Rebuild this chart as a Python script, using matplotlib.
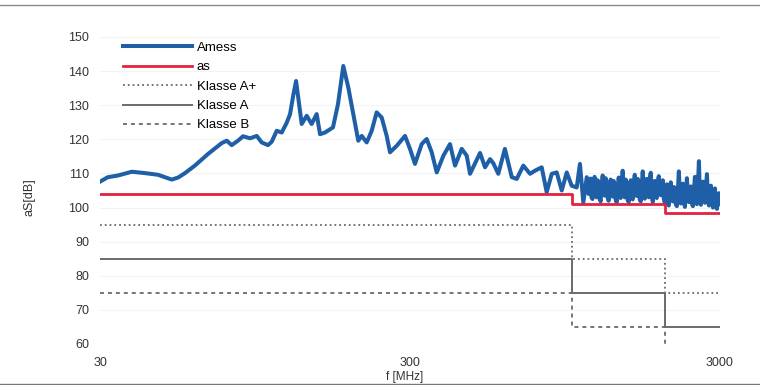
import matplotlib
matplotlib.use("Agg")
import matplotlib.pyplot as plt
from matplotlib.lines import Line2D

plt.rcParams["font.family"] = ["Liberation Sans", "DejaVu Sans"]

amess_f = [30, 31.8, 34.3, 38.0, 41.9, 46.2, 51.1, 53.6, 56.4, 60.7, 66.9, 74.1,
           76.9, 79.8, 83.6, 86.8, 91.4, 96.1, 99.7, 104.5, 107.4, 111.5, 115.7,
           120.1, 123.1, 126.1, 128.7, 134.2, 139.3, 144.5, 150, 153.8, 159.6,
           169.3, 175.7, 182.8, 189.7, 196.9, 204.3, 209.6, 217.5, 225.7, 234.2,
           243.1, 252.3, 258.6, 271.8, 289.1, 300, 311.3, 327.2, 339.6, 352.5,
           365.9, 384.4, 403.8, 419.1, 440.5, 457.3, 468.6, 504.7, 523.8, 543.7,
           557, 578, 607, 639, 663, 696, 732, 759, 798, 828, 860, 892, 926, 961,
           997, 1035, 1060, 1087, 1115,
           1130, 1138, 1147, 1155, 1164, 1173, 1182, 1191, 1200, 1209,
           1218, 1227, 1236, 1245, 1255, 1264, 1274, 1283, 1293, 1302,
           1312, 1322, 1332, 1342, 1352, 1362, 1372, 1382, 1393, 1403,
           1414, 1424, 1435, 1445, 1456, 1467, 1478, 1489, 1500, 1511,
           1523, 1534, 1546, 1557, 1569, 1581, 1593, 1605, 1617, 1629,
           1641, 1653, 1665, 1678, 1690, 1703, 1716, 1728, 1741, 1754,
           1768, 1781, 1794, 1807, 1821, 1834, 1848, 1862, 1876, 1890,
           1904, 1918, 1933, 1947, 1962, 1976, 1991,
           2006, 2021, 2036, 2051, 2066, 2082, 2097, 2113, 2129, 2145,
           2161, 2177, 2193, 2210, 2226, 2243, 2260, 2277, 2294, 2311,
           2328, 2346, 2363, 2381, 2399, 2417, 2435, 2453, 2471, 2490,
           2508, 2527, 2546, 2565, 2584, 2604, 2623, 2643, 2662, 2682,
           2702, 2723, 2743, 2763, 2784, 2805, 2826, 2847, 2868, 2890,
           2911, 2933, 2955, 2977, 3000]
amess_db = [107.6, 108.9, 109.4, 110.5, 110.1, 109.6, 108.2, 108.8, 110.1, 112.3,
            115.7, 118.9, 119.6, 118.3, 119.6, 120.9, 120.3, 121.0, 119.1, 118.3,
            119.3, 122.5, 122.0, 124.9, 127.4, 133.0, 137.1, 124.5, 126.9, 124.5,
            127.4, 121.5, 122.0, 123.5, 130.3, 141.5, 135.2, 127.4, 119.6, 121.0,
            119.1, 122.5, 127.9, 126.4, 121.0, 116.2, 118.1, 121.0, 117.2, 112.8,
            118.6, 120.1, 116.2, 110.3, 115.2, 118.6, 112.3, 117.2, 115.2, 109.9,
            116.0, 111.8, 114.2, 113.0, 109.9, 117.2, 108.9, 108.4, 112.3, 109.9,
            110.8, 111.8, 104.5, 109.9, 110.3, 105.0, 110.3, 106.4, 105.9, 112.8,
            101.5, 108.9,
            104.0, 107.2, 108.5, 103.0, 102.5, 106.8, 109.0, 104.2, 103.0, 108.0,
            107.5, 102.6, 101.8, 106.0, 109.4, 104.8, 103.5, 108.6, 107.0, 103.0,
            102.0, 106.4, 108.2, 104.0, 103.2, 107.8, 106.8, 102.4, 101.5, 105.8,
            108.8, 104.4, 102.8, 107.0, 110.8, 105.0, 103.0, 108.2, 107.2, 102.2,
            101.6, 106.2, 108.0, 103.6, 102.4, 107.4, 109.6, 104.6, 103.4, 108.4,
            107.6, 102.4, 101.8, 106.6, 110.6, 104.2, 102.6, 107.2, 108.4, 103.8,
            103.0, 108.6, 110.2, 104.0, 101.6, 106.0, 107.8, 103.2, 102.8, 107.6,
            109.2, 104.8, 103.6, 106.8, 108.0, 102.6, 101.4,
            104.6, 106.8, 101.0, 100.6, 105.2, 107.4, 102.6, 101.8, 106.0, 105.8,
            101.0, 100.4, 104.8, 110.6, 104.0, 101.2, 105.6, 107.0, 102.2, 100.2,
            104.4, 108.6, 103.8, 101.6, 105.0, 106.2, 101.2, 100.4, 104.6, 109.0,
            103.2, 101.0, 106.4, 113.6, 103.4, 100.8, 104.8, 107.6, 102.8, 101.4,
            106.0, 109.8, 102.0, 100.6, 104.2, 106.4, 101.6, 100.0, 103.8, 105.6,
            100.8, 99.6, 102.8, 104.2, 101.0]

# limit steps
step_f = [30, 1000, 2000, 3000]
as_db = [104, 101, 98.5, 98.5]
klasse_a_plus = [95, 85, 75, 75]
klasse_a = [85, 75, 65, 65]
klasse_b = [75, 65, 55, 55]

x_ticks = [30, 300, 3000]
y_ticks = [60, 70, 80, 90, 100, 110, 120, 130, 140, 150]

fig = plt.figure(figsize=(7.6, 3.85), dpi=100)
ax = fig.add_axes([100 / 760, 1 - 344 / 385, 620 / 760, 307 / 385])

gray = "#6a6a6a"
ax.step(step_f, klasse_a_plus, where="post", color=gray, lw=1.3, ls=":", label="Klasse A+")
ax.step(step_f, klasse_a, where="post", color=gray, lw=1.4, ls="-", label="Klasse A")
ax.step(step_f, klasse_b, where="post", color=gray, lw=1.3, dashes=(2.2, 2.2), label="Klasse B")
ax.plot(amess_f, amess_db, color="#1f5fa8", lw=2.9, label="Amess", zorder=3)
ax.step(step_f, as_db, where="post", color="#e2233f", lw=2.0, label="as", zorder=4)

ax.set_xscale("log")
ax.set_xlim(30, 3000)
ax.set_ylim(60, 150)
ax.set_xticks(x_ticks)
ax.set_xticklabels([str(t) for t in x_ticks])
ax.minorticks_off()
ax.set_yticks(y_ticks)
ax.tick_params(length=0, labelsize=9, colors="#333333")
ax.tick_params(axis="x", pad=9)
ax.tick_params(axis="y", pad=8)
for s in ax.spines.values():
    s.set_visible(False)
ax.grid(axis="y", color="#f3f3f3", lw=0.8)
ax.set_axisbelow(True)

handles, labels = ax.get_legend_handles_labels()
order = ["Amess", "as", "Klasse A+", "Klasse A", "Klasse B"]
hmap = dict(zip(labels, handles))
ax.legend([hmap[k] for k in order], order, loc="upper left",
          bbox_to_anchor=(0.018, 1.023), frameon=False, fontsize=9.5,
          handlelength=5.2, handletextpad=0.38, labelspacing=0.54)

fig.text(30 / 760, 1 - 197 / 385, "aS[dB]", rotation=90, ha="center", va="center",
         fontsize=9, color="#333333")
fig.text(405 / 760, 1 - 377 / 385, "f [MHz]", ha="center", va="center",
         fontsize=8.5, color="#333333")

# scan frame lines at top and bottom
fig.add_artist(Line2D([0, 1], [1 - 4.5 / 385, 1 - 4.5 / 385], transform=fig.transFigure,
                      color="#8a8a8a", lw=1.0, zorder=11))
fig.add_artist(Line2D([0, 1], [1 - 383.5 / 385, 1 - 383.5 / 385], transform=fig.transFigure,
                      color="#777777", lw=1.0, zorder=11))

fig.savefig("out.png", dpi=100)
